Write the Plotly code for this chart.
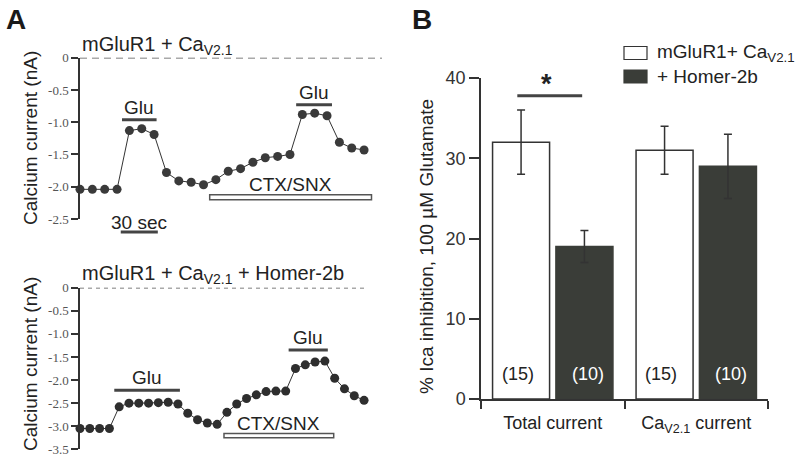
import plotly.graph_objects as go

# ---------------- data ----------------
# Panel A, top trace (mGluR1 + CaV2.1), sampled every 10 s
time_top = [0, 10, 20, 30, 40, 50, 60, 70, 80, 90, 100, 110, 120, 130, 140,
            150, 160, 170, 180, 190, 200, 210, 220, 230]
current_top = [-2.04, -2.04, -2.04, -2.04, -1.13, -1.10, -1.19, -1.78, -1.91,
               -1.93, -1.97, -1.89, -1.76, -1.72, -1.62, -1.55, -1.53, -1.50,
               -0.88, -0.86, -0.90, -1.31, -1.40, -1.43]
ticks_top = [0, -0.5, -1.0, -1.5, -2.0, -2.5]
ticktext_top = ["0", "-0.5", "-1.0", "-1.5", "-2.0", "-2.5"]

# Panel A, bottom trace (mGluR1 + CaV2.1 + Homer-2b)
time_bot = [0, 10, 20, 30, 40, 50, 60, 70, 80, 90, 100, 110, 120, 130, 140,
            150, 160, 170, 180, 190, 200, 210, 220, 230, 240, 250, 260, 270,
            280, 290]
current_bot = [-3.05, -3.05, -3.05, -3.05, -2.58, -2.50, -2.50, -2.50, -2.49,
               -2.48, -2.52, -2.72, -2.86, -2.93, -2.96, -2.70, -2.52, -2.40,
               -2.32, -2.25, -2.24, -2.24, -1.75, -1.67, -1.61, -1.59, -1.96,
               -2.19, -2.34, -2.44]
ticks_bot = [0, -0.5, -1.0, -1.5, -2.0, -2.5, -3.0, -3.5]
ticktext_bot = ["0", "-0.5", "-1.0", "-1.5", "-2.0", "-2.5", "-3.0", "-3.5"]

# application periods (s) and bar levels (nA)
glu_top = [(34, 62, -0.96), (175, 204, -0.73)]
ctx_top = (105, 236, -2.20, -2.125)
glu_bot = [(35, 102, -2.22), (213, 253, -1.35)]
ctx_bot = (147, 259, -3.25, -3.16)
scale_sec = (33, 63)

# Panel B
categories = ["Total current", "Ca<sub>V2.1</sub> current"]
series_names = ["mGluR1+ Ca<sub>V2.1</sub>", "+ Homer-2b"]
control_vals = [32, 31]
control_err = [4, 3]
homer_vals = [19, 29]
homer_err = [2, 4]
n_control = ["(15)", "(15)"]
n_homer = ["(10)", "(10)"]
ticks_b = [0, 10, 20, 30, 40]

# ---------------- styling ----------------
DARK = "#3a3d38"
LINE = "#333333"
SANS = "Liberation Sans, Arial, sans-serif"
SERIF = "Liberation Serif, Times New Roman, serif"
W, H = 800, 462


def py(p):
    return 1 - p / H


def pxx(p):
    return p / W


fig = go.Figure()

# traces in panel A
fig.add_trace(go.Scatter(x=time_top, y=current_top, mode="lines+markers",
                         line=dict(color="#333", width=1),
                         marker=dict(color="#3a3a3a", size=9),
                         cliponaxis=False, showlegend=False,
                         xaxis="x", yaxis="y"))
fig.add_trace(go.Scatter(x=time_bot, y=current_bot, mode="lines+markers",
                         line=dict(color="#333", width=1),
                         marker=dict(color="#2e2e2e", size=9),
                         cliponaxis=False, showlegend=False,
                         xaxis="x2", yaxis="y2"))

# bars in panel B
fig.add_trace(go.Bar(x=categories, y=control_vals, name=series_names[0],
                     marker=dict(color="white", line=dict(color=LINE, width=1.5)),
                     error_y=dict(type="data", array=control_err, color=LINE,
                                  thickness=1.5, width=4),
                     showlegend=False, xaxis="x3", yaxis="y3"))
fig.add_trace(go.Bar(x=categories, y=homer_vals, name=series_names[1],
                     marker=dict(color=DARK, line=dict(color=DARK, width=1.5)),
                     error_y=dict(type="data", array=homer_err, color=LINE,
                                  thickness=1.5, width=4),
                     showlegend=False, xaxis="x3", yaxis="y3"))

shapes = []
annotations = []

# zero dashed lines
shapes.append(dict(type="line", xref="x domain", yref="y", x0=0, x1=1, y0=0, y1=0,
                   line=dict(color="#555", width=1.5, dash="7px,5px")))
shapes.append(dict(type="line", xref="x2 domain", yref="y2", x0=0, x1=1, y0=0, y1=0,
                   line=dict(color="#555", width=1.5, dash="4px,4px")))

# Glu bars and labels
for (xa, ya, bars) in (("x", "y", glu_top), ("x2", "y2", glu_bot)):
    for (t0, t1, lvl) in bars:
        shapes.append(dict(type="line", xref=xa, yref=ya, x0=t0, x1=t1, y0=lvl, y1=lvl,
                           line=dict(color="#444", width=3)))
        annotations.append(dict(xref=xa, yref=ya, x=(t0 + t1) / 2, y=lvl, text="Glu",
                                showarrow=False, yanchor="bottom", yshift=0,
                                font=dict(size=19, color="#222")))

# CTX/SNX bars
for (xa, ya, c) in (("x", "y", ctx_top), ("x2", "y2", ctx_bot)):
    t0, t1, y0, y1 = c
    shapes.append(dict(type="rect", xref=xa, yref=ya, x0=t0, x1=t1, y0=y0, y1=y1,
                       fillcolor="white", line=dict(color="#555", width=1.5)))
    annotations.append(dict(xref=xa, yref=ya, x=(t0 + t1) / 2, y=y1, text="CTX/SNX",
                            showarrow=False, yanchor="bottom", yshift=-2,
                            font=dict(size=19, color="#222")))

# 30 sec scale bar
shapes.append(dict(type="line", xref="x", yref="paper", x0=scale_sec[0], x1=scale_sec[1],
                   y0=py(232), y1=py(232), line=dict(color="#444", width=3)))
annotations.append(dict(xref="x", yref="paper", x=sum(scale_sec) / 2, y=py(222.5),
                        text="30 sec", showarrow=False, yanchor="middle",
                        font=dict(size=19, color="#222")))

# titles of panel A
annotations.append(dict(xref="paper", yref="paper", x=pxx(80), y=py(46),
                        text="mGluR1 + Ca<sub>V2.1</sub>", showarrow=False,
                        xanchor="left", yanchor="middle", font=dict(size=20, color="#222")))
annotations.append(dict(xref="paper", yref="paper", x=pxx(80), y=py(274),
                        text="mGluR1 + Ca<sub>V2.1</sub> + Homer-2b", showarrow=False,
                        xanchor="left", yanchor="middle", font=dict(size=20, color="#222")))

# y axis titles
annotations.append(dict(xref="paper", yref="paper", x=pxx(30), y=py(138),
                        text="Calcium current (nA)", textangle=-90, showarrow=False,
                        xanchor="center", yanchor="middle", font=dict(size=19, color="#222")))
annotations.append(dict(xref="paper", yref="paper", x=pxx(30), y=py(364),
                        text="Calcium current (nA)", textangle=-90, showarrow=False,
                        xanchor="center", yanchor="middle", font=dict(size=19, color="#222")))
annotations.append(dict(xref="paper", yref="paper", x=pxx(427), y=py(246),
                        text="% Ica inhibition, 100 µM Glutamate", textangle=-90,
                        showarrow=False, xanchor="center", yanchor="middle",
                        font=dict(size=19, color="#222")))

# panel letters
annotations.append(dict(xref="paper", yref="paper", x=pxx(4), y=py(20), text="<b>A</b>",
                        showarrow=False, xanchor="left", yanchor="middle",
                        font=dict(size=28, color="#1a1a1a")))
annotations.append(dict(xref="paper", yref="paper", x=pxx(410), y=py(20), text="<b>B</b>",
                        showarrow=False, xanchor="left", yanchor="middle",
                        font=dict(size=28, color="#1a1a1a")))

# legend (drawn manually so the swatches match the reference proportions)
legend_items = [("white", LINE, 53), (DARK, DARK, 76.5)]
for (fill, edge, yc), label in zip(legend_items, series_names):
    shapes.append(dict(type="rect", xref="paper", yref="paper",
                       x0=pxx(624), x1=pxx(647), y0=py(yc + 6.5), y1=py(yc - 6.5),
                       fillcolor=fill, line=dict(color=edge, width=1.2)))
    annotations.append(dict(xref="paper", yref="paper", x=pxx(655), y=py(yc),
                            text=label, showarrow=False, xanchor="left",
                            yanchor="middle", font=dict(size=19, color="#222")))

# n labels inside bars
for i, cat in enumerate(categories):
    annotations.append(dict(xref="x3", yref="y3", x=cat, y=3.1, text=n_control[i],
                            xshift=-35, showarrow=False, yanchor="middle",
                            font=dict(size=18, color="#222")))
    annotations.append(dict(xref="x3", yref="y3", x=cat, y=3.1, text=n_homer[i],
                            xshift=35, showarrow=False, yanchor="middle",
                            font=dict(size=18, color="white")))

# significance
shapes.append(dict(type="line", xref="x3", yref="y3", x0=-0.247, x1=0.205, y0=37.8, y1=37.8,
                   line=dict(color="#444", width=3)))
annotations.append(dict(xref="x3", yref="y3", x=-0.045, y=39.3, text="<b>*</b>",
                        showarrow=False, yanchor="middle", font=dict(size=27, color="#222")))

axis_common = dict(showgrid=False, zeroline=False, automargin=False)
fig.update_layout(
    width=W, height=H,
    margin=dict(l=0, r=0, t=0, b=0, pad=0, autoexpand=False),
    paper_bgcolor="white", plot_bgcolor="rgba(0,0,0,0)",
    font=dict(family=SANS, color="#222"),
    barmode="group", bargap=0.117, bargroupgap=0.1,
    showlegend=False,
    xaxis=dict(domain=[pxx(80), pxx(382)], range=[0, 244.5], anchor="y",
               visible=False, **axis_common),
    yaxis=dict(domain=[py(219), py(57.7)], range=[-2.5, 0], anchor="x",
               showline=True, linecolor=LINE, linewidth=1.5,
               ticks="outside", ticklen=7, tickwidth=1.5, tickcolor=LINE,
               tickvals=ticks_top, ticktext=ticktext_top,
               tickfont=dict(family=SERIF, size=13, color="#555"), **axis_common),
    xaxis2=dict(domain=[pxx(80), pxx(367)], range=[0, 293], anchor="y2",
                visible=False, **axis_common),
    yaxis2=dict(domain=[py(449.3), py(287.7)], range=[-3.5, 0], anchor="x2",
                showline=True, linecolor=LINE, linewidth=1.5,
                ticks="outside", ticklen=7, tickwidth=1.5, tickcolor=LINE,
                tickvals=ticks_bot, ticktext=ticktext_bot,
                tickfont=dict(family=SERIF, size=13, color="#555"), **axis_common),
    xaxis3=dict(domain=[pxx(481), pxx(768)], type="category", range=[-0.5, 1.5],
                anchor="y3", showline=True, linecolor=LINE, linewidth=1.5,
                ticks="outside", ticklen=8, tickwidth=1.5, tickcolor=LINE,
                tickson="boundaries", ticklabelstandoff=7,
                tickfont=dict(size=18, color="#222"),
                **axis_common),
    yaxis3=dict(domain=[py(399), py(78)], range=[0, 40], anchor="x3",
                showline=True, linecolor=LINE, linewidth=1.5,
                ticks="outside", ticklen=10, tickwidth=1.5, tickcolor=LINE,
                tickvals=ticks_b, tickfont=dict(size=18, color="#333"),
                **axis_common),
    shapes=shapes,
    annotations=annotations,
)

fig.write_html("out.html",
               config={"displayModeBar": False},
               post_script="document.body.style.margin='0px';"
                           "document.documentElement.style.overflow='hidden';")
